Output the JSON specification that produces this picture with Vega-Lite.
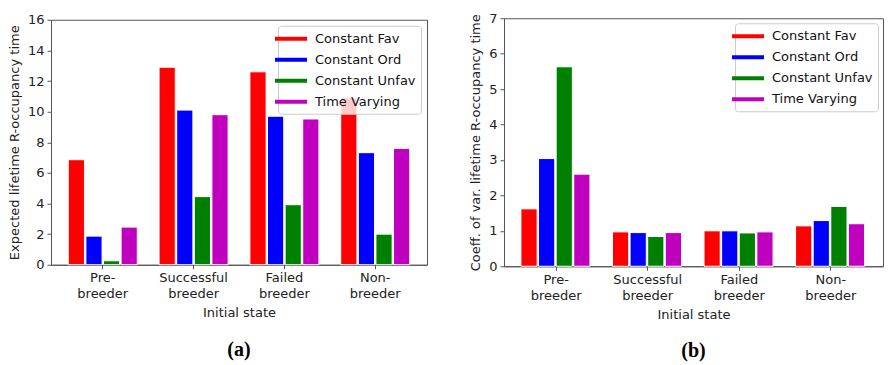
{
  "$schema": "https://vega.github.io/schema/vega-lite/v6.json",
  "padding": {"left": 7, "top": 11, "right": 1, "bottom": 2},
  "background": "white",
  "spacing": 41,
  "center": true,
  "datasets": {
    "a": [
      {"state": "Pre-breeder", "scenario": "Constant Fav", "value": 6.86},
      {"state": "Pre-breeder", "scenario": "Constant Ord", "value": 1.87},
      {"state": "Pre-breeder", "scenario": "Constant Unfav", "value": 0.26},
      {"state": "Pre-breeder", "scenario": "Time Varying", "value": 2.46},
      {"state": "Successful breeder", "scenario": "Constant Fav", "value": 12.9},
      {"state": "Successful breeder", "scenario": "Constant Ord", "value": 10.1},
      {"state": "Successful breeder", "scenario": "Constant Unfav", "value": 4.45},
      {"state": "Successful breeder", "scenario": "Time Varying", "value": 9.8},
      {"state": "Failed breeder", "scenario": "Constant Fav", "value": 12.6},
      {"state": "Failed breeder", "scenario": "Constant Ord", "value": 9.7},
      {"state": "Failed breeder", "scenario": "Constant Unfav", "value": 3.92},
      {"state": "Failed breeder", "scenario": "Time Varying", "value": 9.52},
      {"state": "Non-breeder", "scenario": "Constant Fav", "value": 10.9},
      {"state": "Non-breeder", "scenario": "Constant Ord", "value": 7.32},
      {"state": "Non-breeder", "scenario": "Constant Unfav", "value": 2.0},
      {"state": "Non-breeder", "scenario": "Time Varying", "value": 7.6}
    ],
    "b": [
      {"state": "Pre-breeder", "scenario": "Constant Fav", "value": 1.62},
      {"state": "Pre-breeder", "scenario": "Constant Ord", "value": 3.04},
      {"state": "Pre-breeder", "scenario": "Constant Unfav", "value": 5.63},
      {"state": "Pre-breeder", "scenario": "Time Varying", "value": 2.6},
      {"state": "Successful breeder", "scenario": "Constant Fav", "value": 0.97},
      {"state": "Successful breeder", "scenario": "Constant Ord", "value": 0.95},
      {"state": "Successful breeder", "scenario": "Constant Unfav", "value": 0.84},
      {"state": "Successful breeder", "scenario": "Time Varying", "value": 0.95},
      {"state": "Failed breeder", "scenario": "Constant Fav", "value": 1.0},
      {"state": "Failed breeder", "scenario": "Constant Ord", "value": 1.0},
      {"state": "Failed breeder", "scenario": "Constant Unfav", "value": 0.94},
      {"state": "Failed breeder", "scenario": "Time Varying", "value": 0.97},
      {"state": "Non-breeder", "scenario": "Constant Fav", "value": 1.14},
      {"state": "Non-breeder", "scenario": "Constant Ord", "value": 1.29},
      {"state": "Non-breeder", "scenario": "Constant Unfav", "value": 1.69},
      {"state": "Non-breeder", "scenario": "Time Varying", "value": 1.2}
    ]
  },
  "config": {
    "font": "DejaVu Sans",
    "view": {"stroke": "#555", "strokeWidth": 1},
    "axis": {
      "labelFont": "DejaVu Sans", "labelFontSize": 13, "labelColor": "#222", "labelPadding": 3,
      "titleFont": "DejaVu Sans", "titleFontSize": 13, "titleFontWeight": "normal", "titleColor": "#222",
      "domainColor": "#555", "tickColor": "#555", "tickSize": 4, "grid": false
    },
    "legend": {
      "labelFont": "DejaVu Sans", "labelFontSize": 13, "labelColor": "#111",
      "strokeColor": "#ccc", "fillColor": "rgba(255,255,255,0.8)", "cornerRadius": 3,
      "padding": 5, "rowPadding": 6, "labelOffset": 16,
      "symbolType": "M-2,-0.25H2V0.25H-2Z", "symbolSize": 256, "symbolStrokeWidth": 0,
      "orient": "top-right"
    }
  },
  "resolve": {"scale": {"color": "independent"}, "legend": {"color": "independent"}},
  "hconcat": [
    {
      "data": {"name": "a"},
      "width": 376, "height": 245,
      "title": {"text": "(a)", "orient": "bottom", "frame": "group", "anchor": "middle", "font": "Liberation Serif", "fontWeight": "bold", "fontSize": 20, "color": "black", "offset": 20},
      "mark": {"type": "bar", "stroke": "white", "strokeWidth": 1},
      "encoding": {
        "x": {"field": "state", "type": "nominal", "sort": ["Pre-breeder", "Successful breeder", "Failed breeder", "Non-breeder"],
              "scale": {"paddingInner": 0.24, "paddingOuter": 0.19},
              "axis": {"title": "Initial state", "labelAngle": 0, "labelExpr": "split(replace(datum.label, '-', '- '), ' ')", "labelLineHeight": 16, "titlePadding": 6}},
        "xOffset": {"field": "scenario", "type": "nominal", "sort": ["Constant Fav", "Constant Ord", "Constant Unfav", "Time Varying"], "scale": {"paddingInner": 0.08}},
        "y": {"field": "value", "type": "quantitative", "scale": {"domain": [0, 16], "nice": false},
              "axis": {"title": "Expected lifetime R-occupancy time", "values": [0, 2, 4, 6, 8, 10, 12, 14, 16], "titlePadding": 6}},
        "color": {"field": "scenario", "type": "nominal", "sort": ["Constant Fav", "Constant Ord", "Constant Unfav", "Time Varying"],
                  "scale": {"range": ["#ff0000", "#0000ff", "#008000", "#bf00bf"]}, "legend": {"title": null, "offset": 6}}
      }
    },
    {
      "data": {"name": "b"},
      "width": 379, "height": 248,
      "title": {"text": "(b)", "orient": "bottom", "frame": "group", "anchor": "middle", "font": "Liberation Serif", "fontWeight": "bold", "fontSize": 20, "color": "black", "offset": 20},
      "mark": {"type": "bar", "stroke": "white", "strokeWidth": 1},
      "encoding": {
        "x": {"field": "state", "type": "nominal", "sort": ["Pre-breeder", "Successful breeder", "Failed breeder", "Non-breeder"],
              "scale": {"paddingInner": 0.23, "paddingOuter": 0.185},
              "axis": {"title": "Initial state", "labelAngle": 0, "labelExpr": "split(replace(datum.label, '-', '- '), ' ')", "labelLineHeight": 16, "titlePadding": 6}},
        "xOffset": {"field": "scenario", "type": "nominal", "sort": ["Constant Fav", "Constant Ord", "Constant Unfav", "Time Varying"], "scale": {"paddingInner": 0.08}},
        "y": {"field": "value", "type": "quantitative", "scale": {"domain": [0, 7], "nice": false},
              "axis": {"title": "Coeff. of var. lifetime R-occupancy time", "values": [0, 1, 2, 3, 4, 5, 6, 7], "titlePadding": 6}},
        "color": {"field": "scenario", "type": "nominal", "sort": ["Constant Fav", "Constant Ord", "Constant Unfav", "Time Varying"],
                  "scale": {"range": ["#ff0000", "#0000ff", "#008000", "#bf00bf"]}, "legend": {"title": null, "offset": 5}}
      }
    }
  ]
}
